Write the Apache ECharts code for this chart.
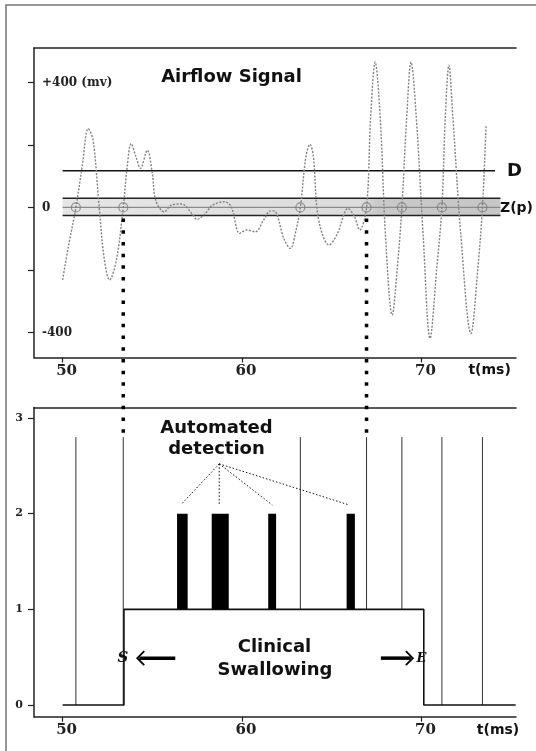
<!DOCTYPE html>
<html><head><meta charset="utf-8">
<script src="https://cdn.jsdelivr.net/npm/echarts@6/dist/echarts.min.js"></script>
<style>html,body{margin:0;padding:0;background:#fff}#c{width:536px;height:751px}</style>
</head><body><div id="c"></div>
<script>
// ---------- data ----------
const signalT = [50.0, 50.32, 50.74, 51.09, 51.43, 51.70, 52.04, 52.33, 52.62, 53.0, 53.38, 53.6, 53.82, 54.09, 54.34, 54.72, 55.0, 55.19, 55.67, 56.05, 56.63, 57.2, 57.49, 57.96, 58.35, 59.01, 59.4, 59.87, 60.26, 60.73, 61.21, 61.59, 61.78, 62.36, 62.7, 62.97, 63.25, 63.56, 63.79, 63.98, 64.17, 64.46, 64.84, 65.32, 65.7, 65.89, 66.27, 66.56, 66.94, 67.17, 67.42, 67.7, 67.99, 68.37, 68.66, 68.91, 69.18, 69.42, 69.71, 70.09, 70.48, 70.86, 71.14, 71.33, 71.53, 71.75, 72.19, 72.76, 73.15, 73.4, 73.6];
const signalV = [-232, -126, 0, 130, 252, 215, 0, -168, -232, -168, 0, 130, 204, 162, 125, 183, 109, 23, -14, 7, 11, -19, -38, -19, 7, 18, 2, -83, -72, -78, -40, -11, -11, -104, -131, -83, 0, 162, 202, 162, 0, -83, -120, -83, -19, -3, -30, -72, 0, 290, 465, 290, -83, -344, -190, 0, 290, 465, 290, -83, -419, -190, 0, 290, 455, 290, -83, -403, -190, 0, 260];
const crossings = [50.74, 53.38, 63.25, 66.94, 68.91, 71.14, 73.40];
const thresholdD = 117;
const thresholdSpan = [50, 74.1];
const zBand = [-26, 29];
const bandSpan = [50, 74.4];
const swallowMarks = [53.38, 66.94];
const stepT = [50, 53.42, 70.13, 75.25];
const stepV = [0, 1, 0, 0];
const spikeBase = [0, 0, 1, 1, 1, 0, 0];
const spikeTop = 2.8;
const detectStart = [56.38, 58.31, 61.46, 65.83];
const detectEnd = [56.97, 59.26, 61.90, 66.29];
const detectLow = 1, detectHigh = 2;
const calloutApex = [58.73, 2.52];
const calloutT = [56.63, 58.73, 61.69, 65.98];
const calloutV = [2.10, 2.10, 2.09, 2.09];
const arrowS = [56.28, 54.16];
const arrowE = [67.74, 69.52];
const arrowLevel = 0.49;
const xTicks = [50, 60, 70];
const airflowTicks = [-400, -200, 0, 200, 400];
const airflowLabels = [-400, 0, 400];
const stateTicks = [0, 1, 2, 3];

// ---------- chart ----------
const chart = echarts.init(document.getElementById('c'), null, {renderer: 'canvas'});
const X_MIN = 48.406, X_MAX = 75.27;
const axisCol = '#222';
const serif = 'DejaVu Serif';
const sans = 'DejaVu Sans';

function xAxisBottom(grid) {
  return {
    type: 'value', gridIndex: grid, min: X_MIN, max: X_MAX, position: 'bottom',
    axisLine: {show: true, onZero: false, lineStyle: {color: axisCol, width: 1.5}},
    axisTick: {show: true, length: 5, customValues: xTicks, lineStyle: {color: axisCol, width: 1.2}},
    axisLabel: {show: true, customValues: xTicks, margin: 6, padding: [0, 0, 0, 8],
      fontFamily: serif, fontWeight: 'bold', fontSize: 15, color: '#222'},
    splitLine: {show: false}
  };
}
function xAxisTop(grid) {
  return {
    type: 'value', gridIndex: grid, min: X_MIN, max: X_MAX, position: 'top',
    axisLine: {show: true, onZero: false, lineStyle: {color: axisCol, width: 1.5}},
    axisTick: {show: false}, axisLabel: {show: false}, splitLine: {show: false}
  };
}

const option = {
  animation: false,
  backgroundColor: '#fff',
  grid: [
    {left: 34, right: 20, top: 48, height: 309.5},
    {left: 34, right: 20, top: 407.5, height: 309.2}
  ],
  xAxis: [xAxisBottom(0), xAxisTop(0), xAxisBottom(1), xAxisTop(1)],
  yAxis: [
    {
      type: 'value', gridIndex: 0, min: -480, max: 510,
      axisLine: {show: true, onZero: false, lineStyle: {color: axisCol, width: 1.5}},
      axisTick: {show: true, length: 6, customValues: airflowTicks, lineStyle: {color: axisCol, width: 1.2}},
      axisLabel: {show: true, inside: true, margin: 8, customValues: airflowLabels,
        fontFamily: serif, fontWeight: 'bold', fontSize: 12, color: '#222',
        formatter: v => v === 400 ? '+400 (mv)' : String(v)},
      splitLine: {show: false}
    },
    {
      type: 'value', gridIndex: 1, min: -0.122, max: 3.109,
      axisLine: {show: true, onZero: false, lineStyle: {color: axisCol, width: 1.5}},
      axisTick: {show: true, length: 6, customValues: stateTicks, lineStyle: {color: axisCol, width: 1.2}},
      axisLabel: {show: true, margin: 11, customValues: stateTicks,
        fontFamily: serif, fontWeight: 'bold', fontSize: 11, color: '#222'},
      splitLine: {show: false}
    }
  ],
  graphic: [
    {type: 'rect', shape: {x: 6, y: 5, width: 700, height: 900}, style: {fill: 'none', stroke: '#777', lineWidth: 1.5}, silent: true, z: -10},
    {type: 'text', x: 231.5, y: 77, style: {text: 'Airflow Signal', font: 'bold 18px "DejaVu Sans"', fill: '#111', textAlign: 'center', textVerticalAlign: 'middle'}},
    {type: 'text', x: 507, y: 171, style: {text: 'D', font: 'bold 18px "DejaVu Sans"', fill: '#111', textAlign: 'left', textVerticalAlign: 'middle'}},
    {type: 'text', x: 500, y: 208, style: {text: 'Z(p)', font: 'bold 14px "DejaVu Sans"', fill: '#111', textAlign: 'left', textVerticalAlign: 'middle'}},
    {type: 'text', x: 489.6, y: 370, style: {text: 't(ms)', font: 'bold 14px "DejaVu Sans"', fill: '#111', textAlign: 'center', textVerticalAlign: 'middle'}},
    {type: 'text', x: 498, y: 730, style: {text: 't(ms)', font: 'bold 14px "DejaVu Sans"', fill: '#111', textAlign: 'center', textVerticalAlign: 'middle'}},
    {type: 'text', x: 216.5, y: 428, style: {text: 'Automated', font: 'bold 18px "DejaVu Sans"', fill: '#111', textAlign: 'center', textVerticalAlign: 'middle'}},
    {type: 'text', x: 216.5, y: 449.5, style: {text: 'detection', font: 'bold 18px "DejaVu Sans"', fill: '#111', textAlign: 'center', textVerticalAlign: 'middle'}},
    {type: 'text', x: 274.5, y: 647, style: {text: 'Clinical', font: 'bold 18px "DejaVu Sans"', fill: '#111', textAlign: 'center', textVerticalAlign: 'middle'}},
    {type: 'text', x: 275, y: 670, style: {text: 'Swallowing', font: 'bold 18px "DejaVu Sans"', fill: '#111', textAlign: 'center', textVerticalAlign: 'middle'}},
    {type: 'text', x: 123, y: 658, style: {text: 'S', font: 'italic bold 15px "DejaVu Serif"', fill: '#111', textAlign: 'center', textVerticalAlign: 'middle'}},
    {type: 'text', x: 421.5, y: 659, style: {text: 'E', font: 'italic bold 13px "DejaVu Serif"', fill: '#111', textAlign: 'center', textVerticalAlign: 'middle'}}
  ],
  series: [
    // Z(p) band fill + centre line
    {
      type: 'line', xAxisIndex: 0, yAxisIndex: 0, silent: true, showSymbol: false, z: 2,
      data: [[bandSpan[0], 0], [bandSpan[1], 0]],
      lineStyle: {color: '#8a8a8a', width: 1.2},
      markArea: {silent: true, itemStyle: {color: new echarts.graphic.LinearGradient(0, 0, 1, 0, [
        {offset: 0, color: '#e6e6e6'}, {offset: 0.68, color: '#dcdcdc'}, {offset: 0.72, color: '#c9c9c9'}, {offset: 1, color: '#c6c6c6'}])},
        data: [[{xAxis: bandSpan[0], yAxis: zBand[0]}, {xAxis: bandSpan[1], yAxis: zBand[1]}]]}
    },
    {type: 'line', xAxisIndex: 0, yAxisIndex: 0, silent: true, showSymbol: false, z: 3,
      data: [[bandSpan[0], zBand[1]], [bandSpan[1], zBand[1]]], lineStyle: {color: '#222', width: 1.5}},
    {type: 'line', xAxisIndex: 0, yAxisIndex: 0, silent: true, showSymbol: false, z: 3,
      data: [[bandSpan[0], zBand[0]], [bandSpan[1], zBand[0]]], lineStyle: {color: '#222', width: 1.5}},
    // D threshold
    {type: 'line', xAxisIndex: 0, yAxisIndex: 0, silent: true, showSymbol: false, z: 3,
      data: [[thresholdSpan[0], thresholdD], [thresholdSpan[1], thresholdD]], lineStyle: {color: '#111', width: 1.5}},
    // airflow signal
    {type: 'line', xAxisIndex: 0, yAxisIndex: 0, silent: true, showSymbol: false, z: 4, smooth: 0.35,
      data: signalT.map((t, i) => [t, signalV[i]]),
      lineStyle: {color: '#808080', width: 1.4, type: [2, 1.5]}},
    // zero crossing circles
    {type: 'scatter', xAxisIndex: 0, yAxisIndex: 0, silent: true, z: 5, symbol: 'circle', symbolSize: 9,
      data: crossings.map(t => [t, 0]),
      itemStyle: {color: 'rgba(0,0,0,0)', borderColor: '#7a7a7a', borderWidth: 1.2}},
    // heavy dotted markers spanning both panels
    {type: 'custom', xAxisIndex: 0, yAxisIndex: 0, silent: true, z: 20, clip: false,
      data: swallowMarks.map(t => [t]),
      renderItem: (params, api) => {
        const t = api.value(0);
        const p1 = api.coord([t, zBand[0]]);
        let y2;
        try { y2 = chart.convertToPixel({gridIndex: 1}, [t, spikeTop])[1]; } catch (e) { y2 = 437; }
        if (!isFinite(y2)) y2 = 437;
        return {type: 'line', shape: {x1: p1[0], y1: p1[1] + 3, x2: p1[0], y2: y2},
          style: {stroke: '#000', lineWidth: 3.5, lineDash: [3.5, 8.2]}};
      }},
    // clinical swallowing step
    {type: 'line', xAxisIndex: 2, yAxisIndex: 1, silent: true, showSymbol: false, step: 'end', z: 4,
      data: stepT.map((t, i) => [t, stepV[i]]), lineStyle: {color: '#111', width: 1.6}},
    // thin spikes
    {type: 'custom', xAxisIndex: 2, yAxisIndex: 1, silent: true, z: 3,
      data: crossings.map((t, i) => [t, spikeBase[i], spikeTop]),
      renderItem: (params, api) => {
        const a = api.coord([api.value(0), api.value(1)]);
        const b = api.coord([api.value(0), api.value(2)]);
        return {type: 'line', shape: {x1: a[0], y1: a[1], x2: b[0], y2: b[1]}, style: {stroke: '#333', lineWidth: 1}};
      }},
    // automated detection bars
    {type: 'custom', xAxisIndex: 2, yAxisIndex: 1, silent: true, z: 5,
      data: detectStart.map((t, i) => [t, detectEnd[i], detectLow, detectHigh]),
      renderItem: (params, api) => {
        const a = api.coord([api.value(0), api.value(3)]);
        const b = api.coord([api.value(1), api.value(2)]);
        return {type: 'rect', shape: {x: a[0], y: a[1], width: b[0] - a[0], height: b[1] - a[1]}, style: {fill: '#000'}};
      }},
    // callout dotted lines
    {type: 'custom', xAxisIndex: 2, yAxisIndex: 1, silent: true, z: 5,
      data: calloutT.map((t, i) => [t, calloutV[i]]),
      renderItem: (params, api) => {
        const a = api.coord(calloutApex);
        const b = api.coord([api.value(0), api.value(1)]);
        return {type: 'line', shape: {x1: a[0], y1: a[1], x2: b[0], y2: b[1]}, style: {stroke: '#111', lineWidth: 1, lineDash: [1.5, 2]}};
      }},
    // arrows
    {type: 'custom', xAxisIndex: 2, yAxisIndex: 1, silent: true, z: 6,
      data: [[arrowS[0], arrowS[1]], [arrowE[0], arrowE[1]]],
      renderItem: (params, api) => {
        const a = api.coord([api.value(0), arrowLevel]);
        const b = api.coord([api.value(1), arrowLevel]);
        const dir = b[0] > a[0] ? 1 : -1;
        return {type: 'group', children: [
          {type: 'line', shape: {x1: a[0], y1: a[1], x2: b[0] - dir * 2, y2: b[1]}, style: {stroke: '#000', lineWidth: 3.5}},
          {type: 'polyline', shape: {points: [[b[0] - dir * 7, b[1] - 7], [b[0], b[1]], [b[0] - dir * 7, b[1] + 7]]},
            style: {stroke: '#000', lineWidth: 1.8, fill: 'none'}}
        ]};
      }}
  ]
};
chart.setOption(option);
</script>
</body></html>
